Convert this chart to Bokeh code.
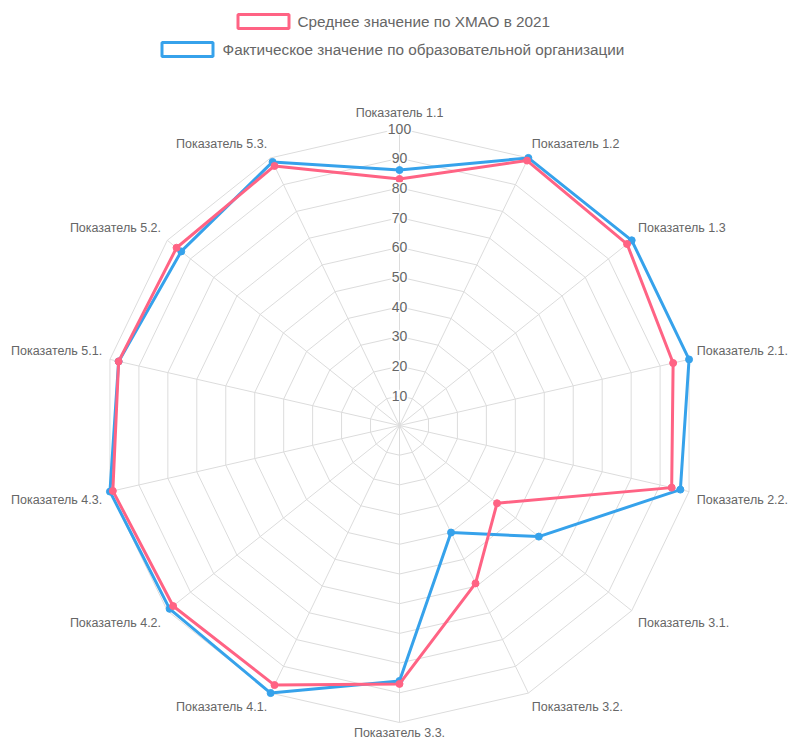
import math
from bokeh.plotting import figure
from bokeh.models import Range1d, ColumnDataSource
from bokeh.core.properties import value
from bokeh.embed import file_html
from bokeh.resources import INLINE

# ---------------- data ----------------
labels = ["Показатель 1.1", "Показатель 1.2", "Показатель 1.3", "Показатель 2.1.",
          "Показатель 2.2.", "Показатель 3.1.", "Показатель 3.2.", "Показатель 3.3.",
          "Показатель 4.1.", "Показатель 4.2.", "Показатель 4.3.", "Показатель 5.1.",
          "Показатель 5.2.", "Показатель 5.3."]
avg_hmao = [83, 99, 98, 94.5, 94, 42, 59, 87, 97, 97.5, 99, 97, 96, 97]
fact_org = [86, 100, 100, 100, 97, 60, 40, 86, 100, 99, 100, 97, 94, 98.5]
series_names = ["Среднее значение по ХМАО в 2021",
                "Фактическое значение по образовательной организации"]
tick_values = [10, 20, 30, 40, 50, 60, 70, 80, 90, 100]

RED = "rgb(255,99,132)"
BLUE = "rgb(54,162,235)"
TXT = "#666666"
FONT = "Liberation Sans"

# ---------------- layout ----------------
W, H = 790, 741
S = 2.97          # px per unit
CX, CY = 399, 425  # centre in canvas px

p = figure(width=W, height=H, output_backend="svg", toolbar_location=None,
           x_range=Range1d(-CX / S, (W - CX) / S),
           y_range=Range1d(-(H - CY) / S, CY / S),
           min_border=0, outline_line_color=None)
p.axis.visible = False
p.grid.visible = False
p.background_fill_color = "white"
p.border_fill_color = "white"

n = len(labels)
ang = [2 * math.pi * i / n for i in range(n)]


def pos(v, i):
    return v * math.sin(ang[i]), v * math.cos(ang[i])


def px2x(px):
    return (px - CX) / S


def py2y(py):
    return (CY - py) / S


# grid rings + spokes
xs, ys = [], []
for t in tick_values:
    pts = [pos(t, i) for i in range(n)] + [pos(t, 0)]
    xs.append([q[0] for q in pts])
    ys.append([q[1] for q in pts])
for i in range(n):
    xe, ye = pos(100, i)
    xs.append([0, xe])
    ys.append([0, ye])
p.multi_line(xs, ys, line_color="#dcdcdc", line_width=1)

# series (blue first, red on top)
for vals, col in ((fact_org, BLUE), (avg_hmao, RED)):
    pts = [pos(v, i) for i, v in enumerate(vals)]
    lx = [q[0] for q in pts] + [pts[0][0]]
    ly = [q[1] for q in pts] + [pts[0][1]]
    p.line(lx, ly, line_color=col, line_width=3)
    p.scatter([q[0] for q in pts], [q[1] for q in pts], size=7,
              fill_color=col, line_color=col)

# tick labels
p.text(x=[0] * len(tick_values), y=tick_values, text=[str(t) for t in tick_values],
       text_align="center", text_baseline="middle", text_color=TXT,
       text_font=value(FONT), text_font_size="14px",
       background_fill_color="white", background_fill_alpha=0.75, padding=1)

# point labels
lab_src = dict(x=[], y=[], text=[], align=[], base=[])
for i in range(n):
    deg = math.degrees(ang[i])
    LR = 101.3 if abs(deg - 180) < 1e-6 else 102.7
    x, y = pos(LR, i)
    if i == 0 or abs(deg - 180) < 1e-6:
        al = "center"
    elif deg < 180:
        al = "left"
    else:
        al = "right"
    base = "bottom" if (deg < 90 or deg > 270) else "top"
    lab_src["x"].append(x)
    lab_src["y"].append(y)
    lab_src["text"].append(labels[i])
    lab_src["align"].append(al)
    lab_src["base"].append(base)
p.text(x="x", y="y", text="text", text_align="align", text_baseline="base",
       source=ColumnDataSource(lab_src), text_color=TXT,
       text_font=value(FONT), text_font_size="12.5px")

# legend
leg_box_x = [px2x(263), px2x(187)]
leg_box_y = [py2y(21), py2y(49)]
p.rect(x=leg_box_x, y=leg_box_y, width=51, height=14, width_units="screen",
       height_units="screen", fill_color="white", line_color=[RED, BLUE], line_width=3)
p.text(x=[px2x(297), px2x(222)], y=[py2y(21), py2y(49)], text=series_names,
       text_align="left", text_baseline="middle", text_color=TXT,
       text_font=value(FONT), text_font_size="15.3px")

open("out.html", "w").write(file_html(p, INLINE))
